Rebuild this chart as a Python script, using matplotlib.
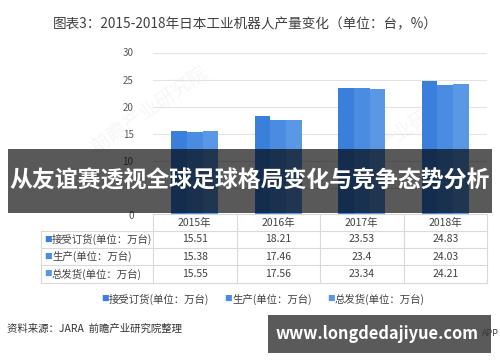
import matplotlib.pyplot as plt
import matplotlib.patches as patches
import numpy as np

plt.rcParams['font.family'] = ['Noto Sans CJK SC', 'DejaVu Sans']

# Data
years = ['2015年', '2016年', '2017年', '2018年']
series = ['接受订货(单位：万台)', '生产(单位：万台)', '总发货(单位：万台)']
orders = [15.51, 18.21, 23.53, 24.83]
production = [15.38, 17.46, 23.4, 24.03]
shipments = [15.55, 17.56, 23.34, 24.21]
values = [orders, production, shipments]
labels_txt = [['15.51', '18.21', '23.53', '24.83'],
              ['15.38', '17.46', '23.4', '24.03'],
              ['15.55', '17.56', '23.34', '24.21']]
yticks = [0, 5, 10, 15, 20, 25, 30]
ytick_labels = ['0', '', '10', '15', '20', '25', '30']  # 5 is hidden by the banner
colors = ['#3b7fdd', '#4a8ce2', '#5a98e6']

W, H = 500, 362
fig = plt.figure(figsize=(W / 100, H / 100), dpi=100)
fig.patch.set_facecolor('white')


def fx(x):
    return x / W


def fy(y):
    return 1 - y / H


# faint watermark, behind everything
fig.text(fx(150), fy(110), '前瞻产业研究院', ha='center', va='center', fontsize=14,
         color='#f6f6f6', rotation=35, zorder=-5)
fig.text(fx(420), fy(120), '产业研究院', ha='center', va='center', fontsize=14,
         color='#f7f7f7', rotation=35, zorder=-5)

# main axes
ax_l, ax_r, ax_t, ax_b = 153, 487, 52.5, 215
ax = fig.add_axes([fx(ax_l), fy(ax_b), (ax_r - ax_l) / W, (ax_b - ax_t) / H])
ax.set_facecolor('none')
x = np.arange(len(years))
bw = 0.188
for i, (vals, c) in enumerate(zip(values, colors)):
    ax.bar(x + (i - 1) * bw, vals, width=bw, color=c, zorder=3)
ax.set_xlim(-0.5, 3.5)
ax.set_ylim(0, 30)
ax.set_yticks(yticks)
ax.set_yticklabels(ytick_labels)
ax.tick_params(axis='y', length=0, labelsize=7, labelcolor='#595959', pad=14)
ax.set_xticks([])
ax.grid(axis='y', color='#e3e3e3', linewidth=0.8, zorder=0)
for s in ax.spines.values():
    s.set_visible(False)

# title
fig.text(fx(245), fy(24), '图表3：2015-2018年日本工业机器人产量变化（单位：台，%）',
         ha='center', va='center', fontsize=9.8, color='#404040')

# table
line_c = '#d9d9d9'
cols = [41, 153, 236.5, 320, 403.5, 487]
rows = [214, 231, 248, 265, 283]
tl = fig.transFigure
fig.add_artist(plt.Line2D([fx(153), fx(487)], [fy(rows[0])] * 2, color=line_c, lw=0.8, transform=tl))
for r in rows[1:]:
    fig.add_artist(plt.Line2D([fx(41), fx(487)], [fy(r)] * 2, color=line_c, lw=0.8, transform=tl))
fig.add_artist(plt.Line2D([fx(41)] * 2, [fy(rows[1]), fy(rows[-1])], color=line_c, lw=0.8, transform=tl))
for c in cols[1:]:
    fig.add_artist(plt.Line2D([fx(c)] * 2, [fy(rows[0]), fy(rows[-1])], color=line_c, lw=0.8, transform=tl))
for j, yr in enumerate(years):
    cx = (cols[j + 1] + cols[j + 2]) / 2
    fig.text(fx(cx), fy(222.5), yr, ha='center', va='center', fontsize=7.5, color='#404040')
for i in range(3):
    cy = (rows[i + 1] + rows[i + 2]) / 2
    fig.text(fx(44), fy(cy), '■', ha='left', va='center', fontsize=5.5, color=colors[i])
    fig.text(fx(52), fy(cy), series[i], ha='left', va='center', fontsize=7.5, color='#404040')
    for j in range(4):
        cx = (cols[j + 1] + cols[j + 2]) / 2
        fig.text(fx(cx), fy(cy), labels_txt[i][j], ha='center', va='center', fontsize=7.5, color='#404040')

# legend
leg_x = [101, 224, 327]
for i in range(3):
    fig.text(fx(leg_x[i]), fy(299), '■', ha='left', va='center', fontsize=5.5, color=colors[i])
    fig.text(fx(leg_x[i] + 8), fy(299), series[i], ha='left', va='center', fontsize=7.5, color='#404040')

# source
fig.text(fx(7), fy(329), '资料来源：JARA  前瞻产业研究院整理', ha='left', va='center',
         fontsize=7.5, color='#333333')

# dark banner overlay
fig.add_artist(patches.Rectangle((fx(8), fy(213)), (492 - 8) / W, (213 - 149) / H,
                                 transform=tl, facecolor='black', alpha=0.65, edgecolor='none', zorder=10))
fig.text(fx(250), fy(181), '从友谊赛透视全球足球格局变化与竞争态势分析', ha='center', va='center',
         fontsize=16.5, fontweight='bold', color='white', zorder=11)

# bottom website banner
fig.add_artist(patches.Rectangle((fx(268), fy(353)), (491 - 268) / W, (353 - 315) / H,
                                 transform=tl, facecolor='#5a5a5a', edgecolor='none', zorder=10))
fig.text(fx(377), fy(334), 'www.longdedajiyue.com', ha='center', va='center',
         fontsize=11.8, fontweight='bold', color='white', zorder=11)
fig.text(fx(482), fy(333), 'APP', ha='left', va='center', fontsize=6.5, color='#3a3a3a', zorder=12)

fig.savefig('out.png', dpi=100, facecolor='white')
